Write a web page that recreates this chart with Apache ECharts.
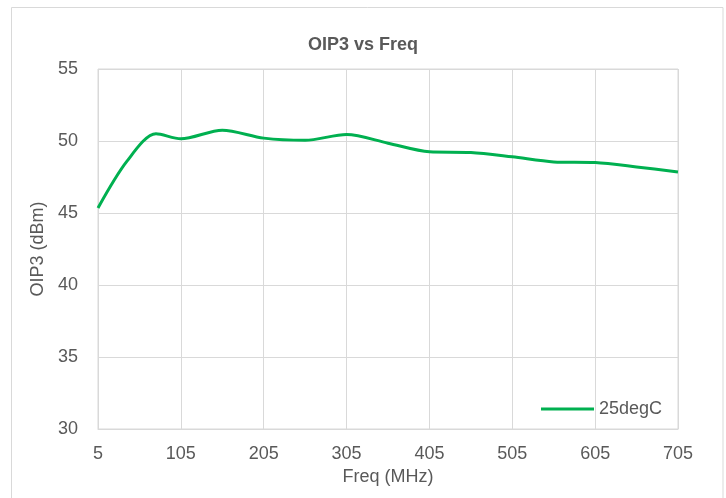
<!DOCTYPE html>
<html>
<head>
<meta charset="utf-8">
<script src="https://cdn.jsdelivr.net/npm/echarts@6/dist/echarts.min.js"></script>
<style>
  html, body { margin: 0; padding: 0; background: #fff; }
  #chart { width: 726px; height: 498px; }
</style>
</head>
<body>
<div id="chart"></div>
<script>
// Measured OIP3 at room temperature across frequency
const freqMHz = [5, 40, 75, 105, 155, 205, 255, 305, 355, 405, 455, 505, 555, 605, 655, 705];
const oip3dBm = [45.35, 48.6, 50.5, 50.15, 50.75, 50.2, 50.05, 50.45, 49.85, 49.25, 49.2, 48.9, 48.55, 48.5, 48.2, 47.85];
const freqTicks = [5, 105, 205, 305, 405, 505, 605, 705];
const seriesName = '25degC';

const FONT = '"Liberation Sans", Arial, sans-serif';
const TEXT = '#595959';
const GRID = '#d9d9d9';
const GREEN = '#00b050';

const chart = echarts.init(document.getElementById('chart'), null, { renderer: 'canvas' });

chart.setOption({
  animation: false,
  backgroundColor: '#fff',
  graphic: [{
    type: 'rect',
    shape: { x: 11.5, y: 7.5, width: 711.5, height: 520 },
    style: { fill: 'none', stroke: GRID, lineWidth: 1 },
    silent: true,
    z: -1
  }],
  title: {
    text: 'OIP3 vs Freq',
    left: 'center',
    top: 31,
    textStyle: { fontFamily: FONT, fontSize: 18, fontWeight: 'bold', color: TEXT }
  },
  legend: {
    left: 536,
    top: 395,
    icon: 'rect',
    itemWidth: 53,
    itemHeight: 3,
    itemGap: 5,
    textStyle: { fontFamily: FONT, fontSize: 18, color: TEXT },
    data: [seriesName]
  },
  grid: {
    left: 98, right: 48, top: 69, bottom: 69,
    show: true, borderColor: GRID, borderWidth: 1
  },
  xAxis: {
    type: 'value',
    min: freqTicks[0],
    max: freqTicks[freqTicks.length - 1],
    name: 'Freq (MHz)',
    nameLocation: 'middle',
    nameGap: 29,
    nameTextStyle: { fontFamily: FONT, fontSize: 18, color: TEXT },
    axisLine: { show: true, lineStyle: { color: GRID } },
    axisTick: { show: false, customValues: freqTicks },
    axisLabel: { customValues: freqTicks, margin: 16, fontFamily: FONT, fontSize: 18, color: TEXT },
    splitLine: { show: true, lineStyle: { color: GRID, width: 1 } }
  },
  yAxis: {
    type: 'value',
    min: 30,
    max: 55,
    interval: 5,
    name: 'OIP3 (dBm)',
    nameLocation: 'middle',
    nameGap: 44,
    nameRotate: 90,
    nameTextStyle: { fontFamily: FONT, fontSize: 18, color: TEXT },
    axisLine: { show: false },
    axisTick: { show: false },
    axisLabel: { margin: 20, fontFamily: FONT, fontSize: 18, color: TEXT },
    splitLine: { show: true, lineStyle: { color: GRID, width: 1 } }
  },
  series: [{
    name: seriesName,
    type: 'line',
    data: freqMHz.map((f, i) => [f, oip3dBm[i]]),
    smooth: 0.3,
    symbol: 'none',
    lineStyle: { color: GREEN, width: 3 },
    itemStyle: { color: GREEN }
  }]
});
</script>
</body>
</html>
